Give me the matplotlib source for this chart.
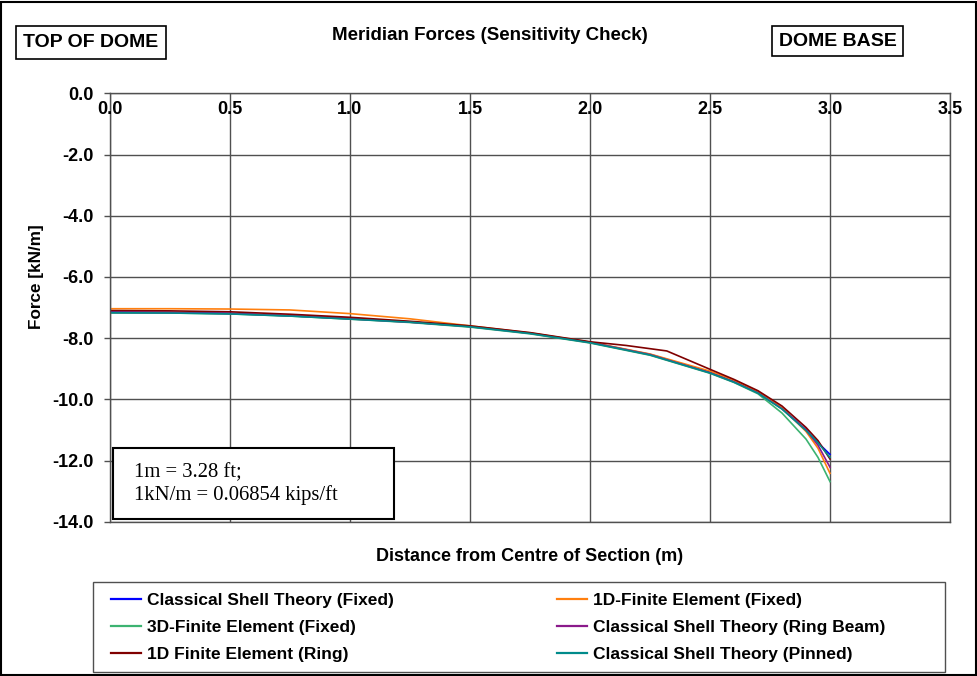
import matplotlib
matplotlib.use('Agg')
import matplotlib.pyplot as plt
from matplotlib.patches import Rectangle

# distance from centre (m)
x = [0, 0.25, 0.5, 0.75, 1.0, 1.25, 1.5, 1.75, 2.0, 2.25, 2.5, 2.6, 2.7, 2.8, 2.9, 2.95, 3.0]
x_ring = [0, 0.25, 0.5, 0.75, 1.0, 1.25, 1.5, 1.75, 2.0, 2.15, 2.32, 2.5, 2.6, 2.7, 2.8, 2.9, 2.95, 3.0]

# meridian force (kN/m)
cst_fixed = [-7.15, -7.16, -7.19, -7.27, -7.36, -7.47, -7.62, -7.84, -8.14, -8.53, -9.12,
             -9.42, -9.78, -10.30, -11.00, -11.42, -11.80]
fe1d_fixed = [-7.04, -7.04, -7.05, -7.08, -7.20, -7.37, -7.60, -7.83, -8.13, -8.52, -9.08,
              -9.38, -9.75, -10.28, -11.05, -11.60, -12.42]
fe3d_fixed = [-7.18, -7.18, -7.21, -7.28, -7.38, -7.49, -7.64, -7.86, -8.16, -8.56, -9.15,
              -9.45, -9.82, -10.45, -11.30, -11.90, -12.69]
cst_ringbeam = [-7.16, -7.17, -7.20, -7.27, -7.37, -7.48, -7.62, -7.84, -8.14, -8.54, -9.13,
                -9.43, -9.79, -10.31, -11.00, -11.50, -12.22]
fe1d_ring = [-7.10, -7.11, -7.14, -7.22, -7.32, -7.45, -7.60, -7.82, -8.12, -8.24, -8.42, -9.02,
             -9.35, -9.72, -10.22, -10.92, -11.35, -11.95]
cst_pinned = [-7.17, -7.18, -7.21, -7.28, -7.38, -7.48, -7.63, -7.85, -8.15, -8.55, -9.14,
              -9.44, -9.80, -10.32, -11.02, -11.42, -11.90]

labels = ['Classical Shell Theory (Fixed)', '1D-Finite Element (Fixed)', '3D-Finite Element (Fixed)',
          'Classical Shell Theory (Ring Beam)', '1D Finite Element (Ring)', 'Classical Shell Theory (Pinned)']
colors = ['#0000ff', '#ff7f0e', '#3cb371', '#8b1a8b', '#800000', '#008b8b']

xticks = [0.0, 0.5, 1.0, 1.5, 2.0, 2.5, 3.0, 3.5]
yticks = [0.0, -2.0, -4.0, -6.0, -8.0, -10.0, -12.0, -14.0]

W, H = 978, 676
bold = dict(family='Liberation Sans', weight='bold')

fig = plt.figure(figsize=(W / 100, H / 100), dpi=100)
fig.patch.set_facecolor('white')
fig.patches.append(Rectangle((1.5 / W, 1.5 / H), 1 - 3 / W, 1 - 3 / H, transform=fig.transFigure,
                             fill=False, edgecolor='black', linewidth=1.5))

ax = fig.add_axes([110 / W, 1 - 521.7 / H, 840 / W, 428.4 / H])
series = [(x, cst_fixed), (x, fe1d_fixed), (x, fe3d_fixed), (x, cst_ringbeam), (x_ring, fe1d_ring), (x, cst_pinned)]
handles = []
for (xs, ys), lab, c in zip(series, labels, colors):
    h, = ax.plot(xs, ys, color=c, linewidth=1.2, label=lab)
    handles.append(h)

ax.set_xlim(0, 3.5)
ax.set_ylim(-14, 0)
ax.set_xticks(xticks)
ax.set_yticks(yticks)
ax.grid(True, color='#505050', linewidth=1.0)
ax.set_axisbelow(True)
for s in ax.spines.values():
    s.set_color('#505050')
    s.set_linewidth(1.0)
ax.tick_params(axis='x', length=0, labelbottom=False)
ax.tick_params(axis='y', length=4.5, width=1, color='#505050', pad=7)
ax.set_yticklabels([f'{v:.1f}' for v in yticks], fontsize=13, **bold)
for v in xticks:
    ax.text(v, -0.52, f'{v:.1f}', ha='center', va='center', fontsize=13, **bold)

ax.set_xlabel('Distance from Centre of Section (m)', fontsize=13, labelpad=19, **bold)
fig.text(37 / W, 1 - 277 / H, 'Force [kN/m]', rotation=90, ha='center', va='center', fontsize=12.3, **bold)

fig.text(490 / W, 1 - 36 / H, 'Meridian Forces (Sensitivity Check)', ha='center', va='center', fontsize=13.5, **bold)
fig.text(91 / W, 1 - 42.5 / H, 'TOP OF DOME', ha='center', va='center', fontsize=14, **bold,
         bbox=dict(boxstyle='square,pad=0.4', facecolor='white', edgecolor='black', linewidth=1.2))
fig.text(837.5 / W, 1 - 41 / H, 'DOME BASE', ha='center', va='center', fontsize=14, **bold,
         bbox=dict(boxstyle='square,pad=0.35', facecolor='white', edgecolor='black', linewidth=1.2))

# conversion note
ax.add_patch(Rectangle((113 / W, 1 - 519 / H), 281 / W, 71 / H, transform=fig.transFigure,
                       facecolor='white', edgecolor='black', linewidth=1.5, zorder=5))
fig.text(134 / W, 1 - 484 / H, '1m = 3.28 ft;\n1kN/m = 0.06854 kips/ft', ha='left', va='center',
         fontsize=14.9, family='Liberation Serif', linespacing=1.15, zorder=6)

# legend, frame drawn separately
fig.patches.append(Rectangle((93 / W, 1 - 672 / H), 852 / W, 90 / H, transform=fig.transFigure,
                             fill=False, edgecolor='#505050', linewidth=1.0))
order = [0, 2, 4, 1, 3, 5]
leg = fig.legend([handles[i] for i in order], [labels[i] for i in order], ncol=2,
                 loc='center left', bbox_to_anchor=(111 / W, 1 - 627.5 / H),
                 prop=dict(family='Liberation Sans', weight='bold', size=12.5), frameon=False,
                 borderaxespad=0, borderpad=0, handlelength=1.72, handletextpad=0.35,
                 labelspacing=0.68, columnspacing=9.4)
for lh in leg.legend_handles:
    lh.set_linewidth(1.6)

fig.savefig('out.png', dpi=100)
